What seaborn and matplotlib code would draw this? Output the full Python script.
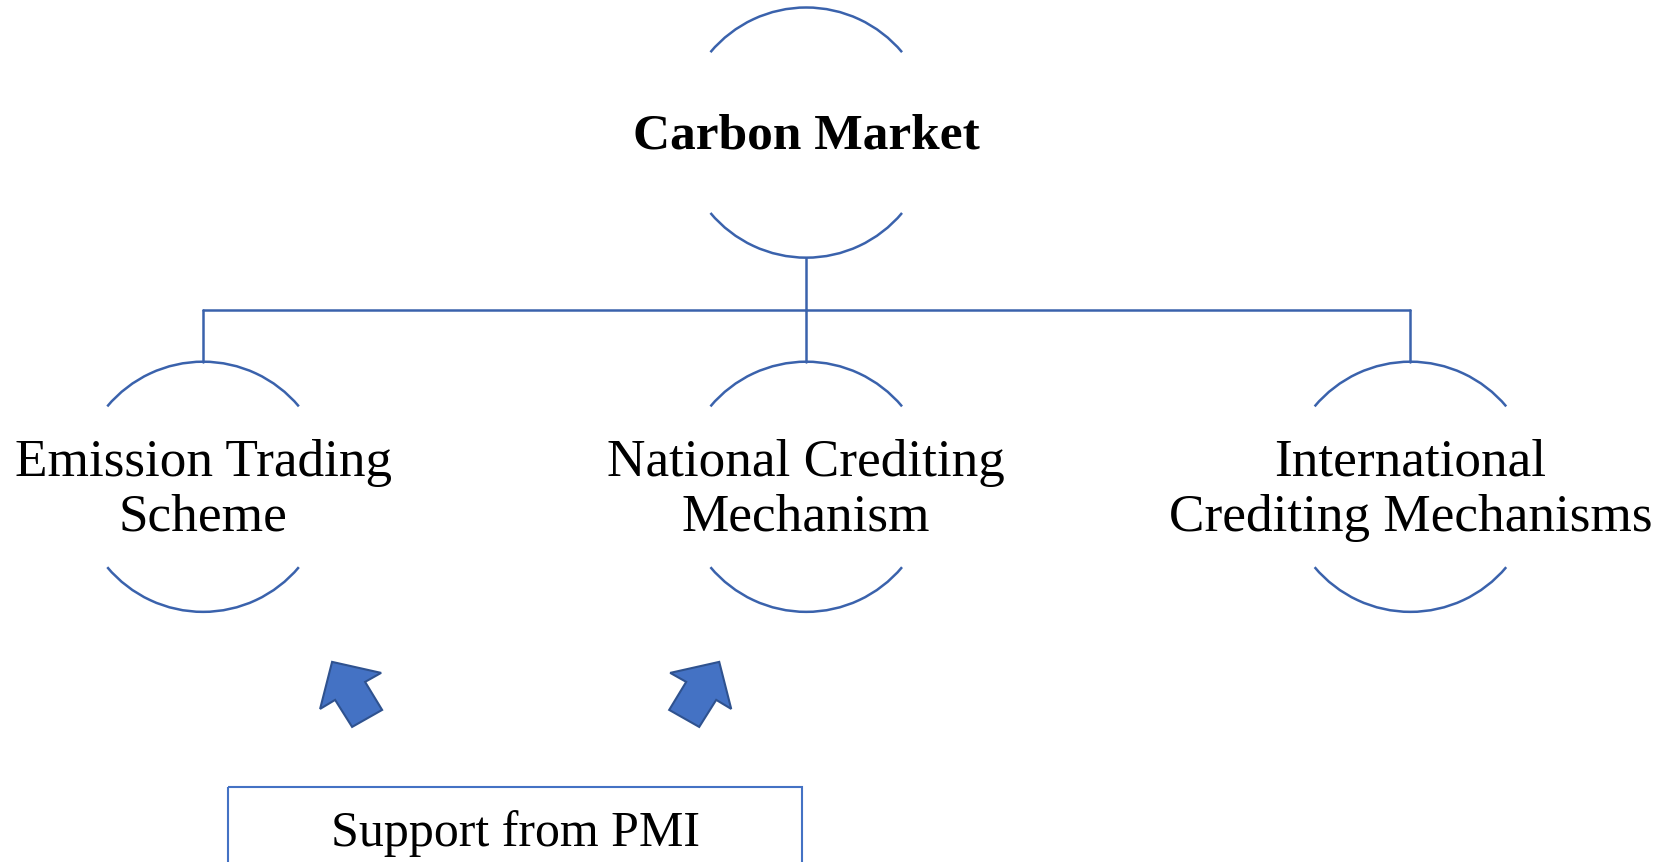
import numpy as np
import pandas as pd
import matplotlib
matplotlib.use("Agg")
import matplotlib.pyplot as plt
import seaborn as sns
from matplotlib.patches import Arc, Polygon, Rectangle

# diagram content
root_label = "Carbon Market"
child_labels = ["Emission Trading\nScheme", "National Crediting\nMechanism",
                "International\nCrediting Mechanisms"]
support_label = "Support from PMI"

# node layout (pixel space of the 1659x862 canvas)
root_xy = (806, 133)
child_x = [203, 806, 1410]
child_y = 487
radius = 125
bus_y = 310

# arrow outline (left one; right one is its mirror)
arrow_x = [332, 381, 365, 382, 352, 335, 320]
arrow_y = [662, 673, 682, 710, 727, 700, 709]
mirror_x = 1051

box = dict(left=228, right=802, top=787)

line_blue = "#3A62AC"
fill_blue = "#4472C4"
edge_blue = "#2F528F"

sns.set_theme(style="white")
plt.rcParams["font.family"] = ["Liberation Serif", "DejaVu Serif"]

fig = plt.figure(figsize=(16.595, 8.625), dpi=100)
ax = fig.add_axes([0, 0, 1, 1])

# connectors
segs = [
    (root_xy[0], root_xy[1] + radius, root_xy[0], bus_y),
    (child_x[0], bus_y, child_x[-1], bus_y),
]
for cx in child_x:
    segs.append((cx, bus_y, cx, child_y - radius))
rows = []
for i, (x0, y0, x1, y1) in enumerate(segs):
    rows += [dict(seg=i, x=x0, y=y0), dict(seg=i, x=x1, y=y1)]
conn = pd.DataFrame(rows)
sns.lineplot(data=conn, x="x", y="y", units="seg", estimator=None, sort=False,
             color=line_blue, lw=1.8, ax=ax, legend=False)
ax.set_xlim(0, 1659)
ax.set_ylim(862, 0)
ax.axis("off")


def node(cx, cy, label, weight="normal", size=38.3, dy=3):
    for t1, t2 in [(40, 140), (220, 320)]:
        ax.add_patch(Arc((cx, cy), 2 * radius, 2 * radius, theta1=t1, theta2=t2,
                         color=line_blue, lw=1.8))
    ax.text(cx, cy + dy, label, ha="center", va="center", fontsize=size,
            fontweight=weight, linespacing=1.2, color="black")


node(root_xy[0], root_xy[1], root_label, weight="bold", size=37)
for cx, lab in zip(child_x, child_labels):
    node(cx, child_y, lab)

# arrows
left = np.column_stack([arrow_x, arrow_y])
right = np.column_stack([mirror_x - np.array(arrow_x), arrow_y])
for pts in (left, right):
    ax.add_patch(Polygon(pts, closed=True, facecolor=fill_blue,
                         edgecolor=edge_blue, lw=1.5))

# support box (runs off the bottom edge)
ax.add_patch(Rectangle((box["left"], box["top"]), box["right"] - box["left"], 200,
                       facecolor="none", edgecolor=fill_blue, lw=1.5))
ax.text((box["left"] + box["right"]) / 2, 833, support_label, ha="center",
        va="center", fontsize=36, color="black")

fig.savefig("out.png", dpi=100)
plt.close(fig)
